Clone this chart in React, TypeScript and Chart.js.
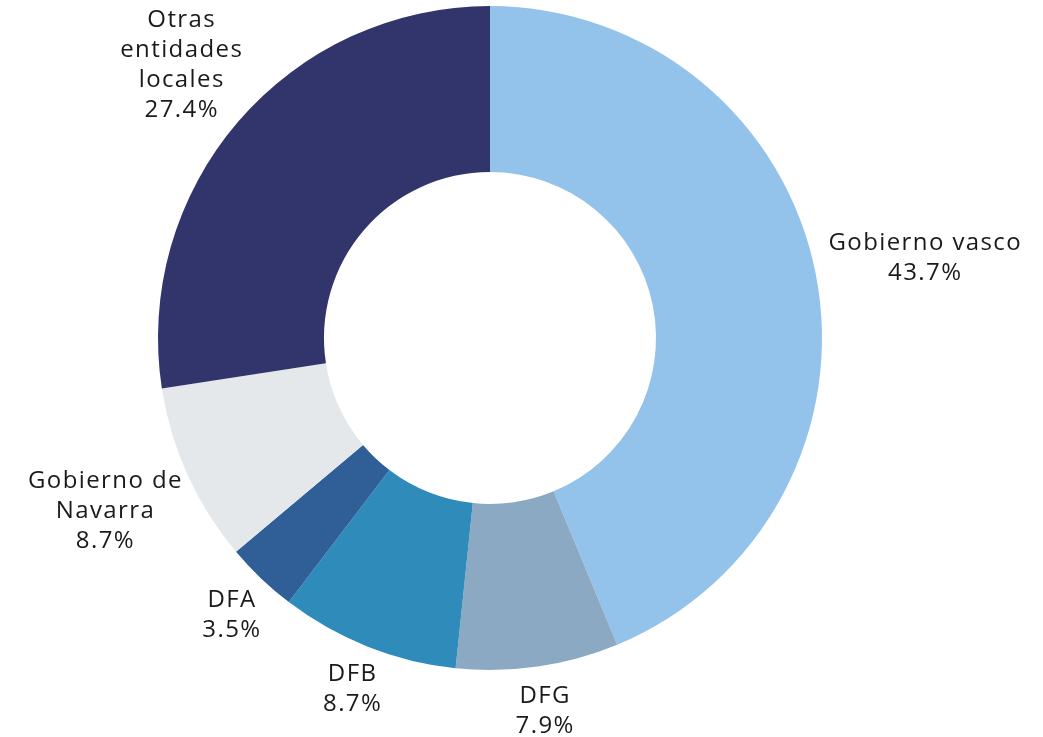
import React, { useEffect, useRef } from "react";
import { Chart, registerables } from "chart.js";

Chart.register(...registerables);

const categories: string[][] = [
  ["Gobierno vasco"],
  ["DFG"],
  ["DFB"],
  ["DFA"],
  ["Gobierno de", "Navarra"],
  ["Otras", "entidades", "locales"],
];
const values: number[] = [43.7, 7.9, 8.7, 3.5, 8.7, 27.4];
const percentLabels: string[] = ["43.7%", "7.9%", "8.7%", "3.5%", "8.7%", "27.4%"];
const colors: string[] = ["#93c2ea", "#8ca9c4", "#2e8bba", "#2f5f96", "#e5e8eb", "#31356c"];

const FONT = "400 24px 'Open Sans', 'DejaVu Sans', sans-serif";
const LINE_H = 30;
const PAD = 14;

const outsideLabels = {
  id: "outsideLabels",
  afterDatasetsDraw(chart: any) {
    const ctx = chart.ctx as CanvasRenderingContext2D;
    const meta = chart.getDatasetMeta(0);
    ctx.save();
    ctx.font = FONT;
    (ctx as any).letterSpacing = "1.4px";
    ctx.fillStyle = "#1a1a1a";
    ctx.textAlign = "center";
    ctx.textBaseline = "middle";
    meta.data.forEach((arc: any, i: number) => {
      const lines = [...categories[i], percentLabels[i]];
      const w = Math.max(...lines.map((l) => ctx.measureText(l).width));
      const h = lines.length * LINE_H;
      const mid = (arc.startAngle + arc.endAngle) / 2;
      const dx = Math.cos(mid);
      const dy = Math.sin(mid);
      const r = arc.outerRadius + PAD;
      const cx = arc.x + dx * r + (dx * w) / 2;
      const cy = arc.y + dy * r + (Math.sign(dy) * Math.sqrt(Math.abs(dy)) * h) / 2 + 1;
      lines.forEach((l, j) => {
        ctx.fillText(l, cx + 1, cy - h / 2 + LINE_H * (j + 0.5));
      });
    });
    ctx.restore();
  },
};

export default function App() {
  const ref = useRef<HTMLCanvasElement>(null);
  useEffect(() => {
    if (!ref.current) return;
    const chart = new Chart(ref.current, {
      type: "doughnut",
      data: {
        labels: categories.map((c) => c.join(" ")),
        datasets: [
          {
            data: values,
            backgroundColor: colors,
            borderWidth: 0,
            hoverOffset: 0,
          },
        ],
      },
      options: {
        animation: false,
        responsive: false,
        cutout: "50%",
        layout: { padding: { top: 6, bottom: 67, left: 158, right: 221 } },
        plugins: {
          legend: { display: false },
          tooltip: { enabled: false },
        },
      },
      plugins: [outsideLabels],
    });
    return () => chart.destroy();
  }, []);
  return (
    <div style={{ position: "absolute", left: 0, top: 0, width: 1043, height: 737, background: "#fff" }}>
      <canvas ref={ref} width={1043} height={737} style={{ width: 1043, height: 737 }} />
    </div>
  );
}
